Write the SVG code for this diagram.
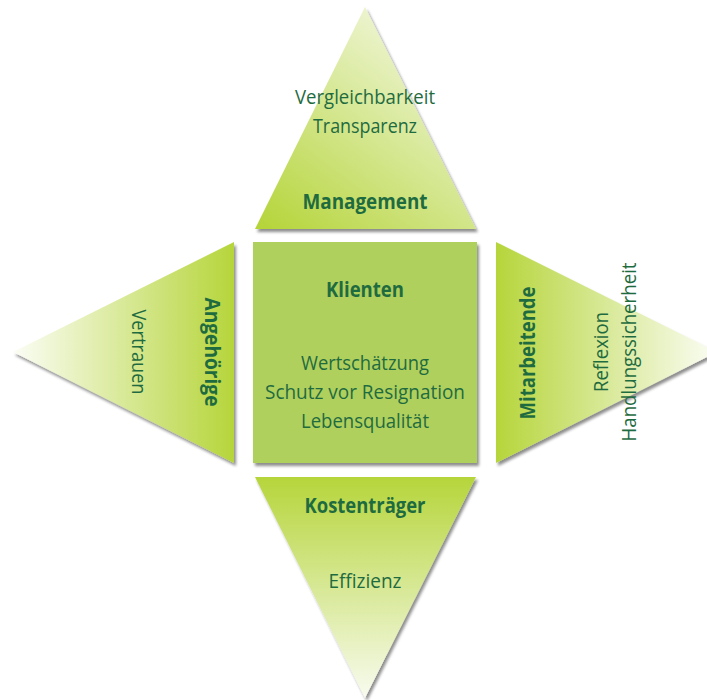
<svg xmlns="http://www.w3.org/2000/svg" width="707" height="700" viewBox="0 0 707 700">
<defs>
<linearGradient id="gTop" x1="0" y1="1" x2="0.75" y2="0">
<stop offset="0" stop-color="#b4d437"/>
<stop offset="1" stop-color="#f3f8e2"/>
</linearGradient>
<linearGradient id="gLeft" x1="1" y1="0" x2="0" y2="0">
<stop offset="0" stop-color="#b6d53b"/>
<stop offset="1" stop-color="#fbfdf5"/>
</linearGradient>
<linearGradient id="gRight" x1="0" y1="0" x2="1" y2="0">
<stop offset="0" stop-color="#b6d53b"/>
<stop offset="1" stop-color="#fbfdf5"/>
</linearGradient>
<linearGradient id="gBottom" x1="0" y1="0" x2="0" y2="1">
<stop offset="0" stop-color="#b6d53b"/>
<stop offset="1" stop-color="#f8fbef"/>
</linearGradient>
<filter id="sh" x="-10%" y="-10%" width="125%" height="125%">
<feGaussianBlur in="SourceAlpha" stdDeviation="1.5"/>
<feOffset dx="1.5" dy="2.5" result="b"/>
<feComponentTransfer><feFuncA type="linear" slope="0.45"/></feComponentTransfer>
<feMerge><feMergeNode/><feMergeNode in="SourceGraphic"/></feMerge>
</filter>
</defs>
<style>
text{font-family:"Open Sans","Noto Sans",sans-serif;fill:#1f6b40;text-anchor:middle}
.b{font-weight:bold;font-size:21px}
.r{font-size:19.5px}
</style>
<rect width="707" height="700" fill="#ffffff"/>
<g id="management">
<polygon points="365,7 476,229 255,229" fill="url(#gTop)" filter="url(#sh)"/>
<text class="r" x="365" y="104" textLength="140" lengthAdjust="spacingAndGlyphs">Vergleichbarkeit</text>
<text class="r" x="365" y="133" textLength="104" lengthAdjust="spacingAndGlyphs">Transparenz</text>
<text class="b" x="365" y="209" textLength="125" lengthAdjust="spacingAndGlyphs">Management</text>
</g>
<g id="angehoerige">
<polygon points="234,242 234,463 13,352" fill="url(#gLeft)" filter="url(#sh)"/>
<text class="b" transform="translate(205,352) rotate(90)" textLength="109" lengthAdjust="spacingAndGlyphs">Angehörige</text>
<text class="r" transform="translate(132,352) rotate(90)" textLength="85" lengthAdjust="spacingAndGlyphs">Vertrauen</text>
</g>
<g id="klienten">
<rect x="253" y="242" width="224" height="221" fill="#b0d05d" filter="url(#sh)"/>
<text class="b" x="365" y="297" textLength="78" lengthAdjust="spacingAndGlyphs">Klienten</text>
<text class="r" x="365" y="370" textLength="128" lengthAdjust="spacingAndGlyphs">Wertschätzung</text>
<text class="r" x="365" y="399" textLength="200" lengthAdjust="spacingAndGlyphs">Schutz vor Resignation</text>
<text class="r" x="365" y="428" textLength="128" lengthAdjust="spacingAndGlyphs">Lebensqualität</text>
</g>
<g id="mitarbeitende">
<polygon points="496,242 717,352 496,463" fill="url(#gRight)" filter="url(#sh)"/>
<text class="b" transform="translate(535,353) rotate(-90)" textLength="133" lengthAdjust="spacingAndGlyphs">Mitarbeitende</text>
<text class="r" transform="translate(608,352) rotate(-90)" textLength="80" lengthAdjust="spacingAndGlyphs">Reflexion</text>
<text class="r" transform="translate(636,352) rotate(-90)" textLength="179" lengthAdjust="spacingAndGlyphs">Handlungssicherheit</text>
</g>
<g id="kostentraeger">
<polygon points="255,477 476,477 365,698" fill="url(#gBottom)" filter="url(#sh)"/>
<text class="b" x="365" y="513" textLength="121" lengthAdjust="spacingAndGlyphs">Kostenträger</text>
<text class="r" x="365" y="588" textLength="73" lengthAdjust="spacingAndGlyphs">Effizienz</text>
</g>
<g id="connectors"/>
</svg>
